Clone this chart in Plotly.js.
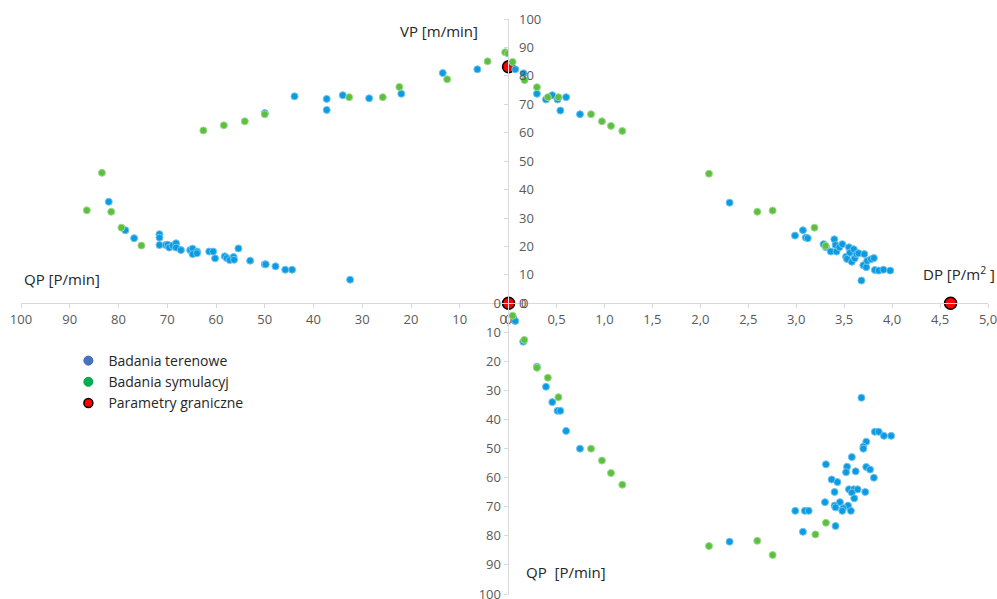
<!DOCTYPE html>
<html>
<head>
<meta charset="utf-8">
<script src="https://cdn.plot.ly/plotly-3.0.1.min.js"></script>
<style>html,body{margin:0;padding:0;background:#fff;}#chart{width:997px;height:599px;}</style>
</head>
<body>
<div id="chart"></div>
<script>
// Quadrant I-left: QP [P/min] vs VP [m/min]
const fieldQP_top = [82.0,78.6,76.8,71.6,71.6,71.6,70.3,69.9,69.6,68.9,68.2,68.2,67.2,65.3,64.8,64.8,63.9,63.9,61.4,60.6,60.2,58.2,57.8,57.2,56.4,56.3,55.4,53.0,50.0,49.8,47.8,45.8,44.4,32.5,50.0,43.9,37.3,37.3,34.0,28.6,22.0,13.5,6.4];
const fieldVP_left = [35.7,25.7,22.9,24.3,23.1,20.5,20.5,20.6,19.6,20.3,21.1,19.6,18.7,18.7,19.2,17.3,18.2,17.6,18.2,18.2,15.8,16.5,15.9,15.2,16.3,15.3,19.3,15.0,13.7,13.7,13.0,11.8,11.8,8.3,66.9,72.8,71.9,68.0,73.2,72.1,73.7,81.0,82.3];
const simQP_top = [83.4,86.5,81.5,79.4,75.3,62.6,58.4,54.1,50.0,32.7,25.8,22.4,12.6,4.3,0.7,0.1];
const simVP_left = [45.9,32.7,32.2,26.6,20.3,60.8,62.6,64.0,66.5,72.5,72.5,76.1,78.8,85.1,88.3,87.9];

// Quadrant right-top: DP [P/m2] vs VP [m/min]
const fieldDP_top = [0.07,0.156,0.296,0.39,0.456,0.511,0.54,0.60,0.745,2.305,2.987,3.07,3.10,3.12,3.285,3.31,3.36,3.397,3.41,3.42,3.45,3.48,3.52,3.53,3.55,3.56,3.58,3.60,3.61,3.63,3.65,3.71,3.70,3.73,3.74,3.78,3.81,3.82,3.86,3.91,3.98,3.68];
const fieldVP_right = [82.3,80.9,73.7,71.7,73.2,71.7,67.8,72.5,66.5,35.4,23.8,25.7,23.1,22.9,20.8,19.7,18.2,22.5,20.5,18.2,19.7,20.8,16.4,15.6,19.7,17.8,14.6,19.0,15.8,17.3,17.6,17.3,13.4,12.7,14.9,15.5,15.9,11.7,11.5,11.8,11.5,8.0];
const simDP_top = [0.042,0.167,0.296,0.41,0.52,0.86,0.974,1.068,1.186,2.09,2.594,2.754,3.19,3.306];
const simVP_right = [84.9,78.5,76.0,72.5,72.5,66.5,64.0,62.4,60.6,45.6,32.2,32.6,26.6,20.2];

// Quadrant right-bottom: DP [P/m2] vs QP [P/min]
const fieldDP_bottom = [0.07,0.153,0.296,0.39,0.456,0.511,0.54,0.60,0.745,2.305,3.68,3.82,3.86,3.915,3.99,3.73,3.70,3.70,3.58,3.31,3.53,3.52,3.62,3.73,3.77,3.81,3.37,3.43,3.55,3.60,3.64,3.58,3.72,3.40,3.605,3.30,3.456,3.40,3.41,3.54,3.49,3.48,3.57,2.99,3.09,3.13,3.41,3.07];
const fieldQP_bottom = [6.1,13.2,21.8,28.7,34.0,37.0,37.0,43.9,50.0,82.0,32.5,44.2,44.2,45.6,45.6,47.6,49.3,50.0,52.9,55.4,56.2,58.1,57.8,56.3,57.2,60.0,60.6,61.5,64.0,64.0,64.0,65.1,64.9,64.9,67.1,68.4,68.4,69.6,70.2,69.6,70.5,71.4,71.4,71.4,71.4,71.4,76.6,78.6];
const simDP_bottom = [0.042,0.164,0.296,0.41,0.52,0.86,0.974,1.068,1.186,2.09,2.594,2.754,3.20,3.31];
const simQP_bottom = [4.3,12.6,22.2,25.6,32.3,50.0,54.1,58.4,62.4,83.5,81.7,86.6,79.5,75.5];

// Limit parameters
const limitQP = [0, 0];
const limitVP_left = [83.2, 0];
const limitDP = [4.61];
const limitVP_right = [0];

const legendNames = ["Badania terenowe", "Badania symulacyj", "Parametry graniczne"];
const qpTicks = [0,10,20,30,40,50,60,70,80,90,100];
const dpTicks = [0,0.5,1.0,1.5,2.0,2.5,3.0,3.5,4.0,4.5,5.0];

const blue = {size: 7, color: '#0B9BE1', line: {color: '#6EC3EF', width: 1}};
const green = {size: 7, color: '#5CBF3F', line: {color: '#9CD98C', width: 1}};
const red = {size: 12, color: '#FF0000', line: {color: '#000000', width: 1.5}};

const traces = [
  {x: fieldQP_top, y: fieldVP_left, xaxis: 'x', yaxis: 'y', mode: 'markers', marker: blue, showlegend: false, hoverinfo: 'skip'},
  {x: fieldDP_top, y: fieldVP_right, xaxis: 'x2', yaxis: 'y', mode: 'markers', marker: blue, showlegend: false, hoverinfo: 'skip'},
  {x: fieldDP_bottom, y: fieldQP_bottom, xaxis: 'x2', yaxis: 'y2', mode: 'markers', marker: blue, showlegend: false, hoverinfo: 'skip'},
  {x: simQP_top, y: simVP_left, xaxis: 'x', yaxis: 'y', mode: 'markers', marker: green, showlegend: false, hoverinfo: 'skip'},
  {x: simDP_top, y: simVP_right, xaxis: 'x2', yaxis: 'y', mode: 'markers', marker: green, showlegend: false, hoverinfo: 'skip'},
  {x: simDP_bottom, y: simQP_bottom, xaxis: 'x2', yaxis: 'y2', mode: 'markers', marker: green, showlegend: false, hoverinfo: 'skip'},
  {x: limitQP, y: limitVP_left, xaxis: 'x', yaxis: 'y', mode: 'markers', marker: red, showlegend: false, hoverinfo: 'skip', cliponaxis: false},
  {x: limitDP, y: limitVP_right, xaxis: 'x2', yaxis: 'y', mode: 'markers', marker: red, showlegend: false, hoverinfo: 'skip', cliponaxis: false},
  // legend entries
  {x: [null], y: [null], xaxis: 'x', yaxis: 'y', mode: 'markers', name: legendNames[0], marker: {size: 9, color: '#4472C4', line: {color: '#3A64AE', width: 1}}},
  {x: [null], y: [null], xaxis: 'x', yaxis: 'y', mode: 'markers', name: legendNames[1], marker: {size: 9, color: '#00B050', line: {color: '#00A048', width: 1}}},
  {x: [null], y: [null], xaxis: 'x', yaxis: 'y', mode: 'markers', name: legendNames[2], marker: {size: 9, color: '#FF0000', line: {color: '#000000', width: 1.5}}}
];

const fontFam = 'Open Sans, Noto Sans, sans-serif';
const tickFont = {family: fontFam, size: 13, color: '#595959'};
const xc = 0.5042, yc = 0.5056;
const common = {showgrid: false, zeroline: false, showline: true, linecolor: '#D9D9D9', linewidth: 1,
  ticks: 'outside', ticklen: 4, tickcolor: '#D9D9D9', tickfont: tickFont, fixedrange: true, ticklabeloverflow: 'allow'};

const layout = {
  width: 997, height: 599,
  margin: {l: 21, r: 9, t: 19, b: 5},
  paper_bgcolor: '#FFFFFF', plot_bgcolor: 'rgba(0,0,0,0)',
  separators: ', ',
  showlegend: true,
  legend: {x: 0.049, y: 0.433, xanchor: 'left', yanchor: 'top', font: {family: fontFam, size: 14, color: '#262626'}, bgcolor: 'rgba(0,0,0,0)', tracegroupgap: 0, itemwidth: 30},
  xaxis: Object.assign({}, common, {domain: [0, xc], range: [100, 0], anchor: 'y', tickvals: qpTicks}),
  xaxis2: Object.assign({}, common, {domain: [xc, 1], range: [0, 5], anchor: 'y', tickvals: dpTicks, tickformat: '.1f'}),
  yaxis: Object.assign({}, common, {domain: [yc, 1], range: [0, 100], anchor: 'x2', side: 'left', tickvals: qpTicks, ticklabelposition: 'inside', ticklabelstandoff: 10}),
  yaxis2: Object.assign({}, common, {domain: [0, yc], range: [100, 0], anchor: 'x2', side: 'left', tickvals: qpTicks}),
  annotations: [
    {text: '0', xref: 'x2', yref: 'y', x: 0, y: 0, xanchor: 'left', yanchor: 'middle', xshift: 10, showarrow: false, font: tickFont},
    {text: 'VP [m/min]', xref: 'paper', yref: 'paper', x: 0.4323, y: 0.979, xanchor: 'center', yanchor: 'middle', showarrow: false, font: {family: fontFam, size: 15, color: '#262626'}},
    {text: 'QP [P/min]', xref: 'paper', yref: 'paper', x: 0.001, y: 0.548, xanchor: 'left', yanchor: 'middle', showarrow: false, font: {family: fontFam, size: 15, color: '#262626'}},
    {text: 'DP [P/m<sup>2</sup> ]', xref: 'paper', yref: 'paper', x: 0.9307, y: 0.558, xanchor: 'left', yanchor: 'middle', showarrow: false, font: {family: fontFam, size: 15, color: '#262626'}},
    {text: 'QP  [P/min]', xref: 'paper', yref: 'paper', x: 0.520, y: 0.038, xanchor: 'left', yanchor: 'middle', showarrow: false, font: {family: fontFam, size: 15, color: '#262626'}}
  ]
};

Plotly.newPlot('chart', traces, layout, {staticPlot: true, displayModeBar: false});
</script>
</body>
</html>
